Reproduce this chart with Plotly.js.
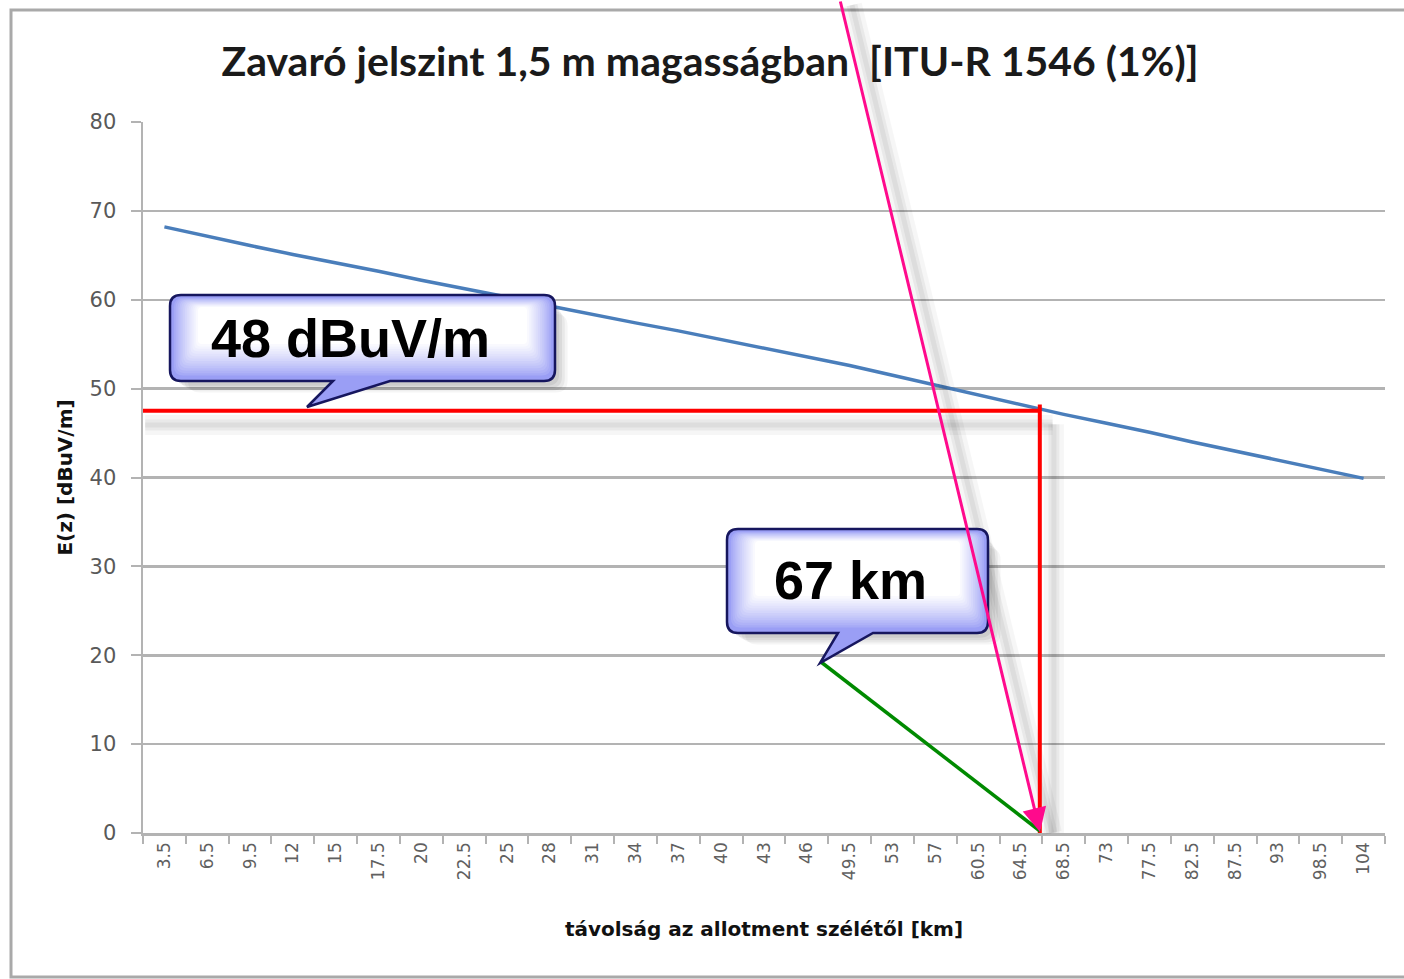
<!DOCTYPE html>
<html>
<head>
<meta charset="utf-8">
<script src="https://cdn.plot.ly/plotly-3.0.1.min.js"></script>
<style>
html,body{margin:0;padding:0;background:#fff;}
#chart{width:1404px;height:979px;}
</style>
</head>
<body>
<div id="chart"></div>
<script>
// ---- data ----
const distanceLabels = ['3.5','6.5','9.5','12','15','17.5','20','22.5','25','28','31','34','37','40','43','46','49.5','53','57','60.5','64.5','68.5','73','77.5','82.5','87.5','93','98.5','104'];
const fieldStrength = [68.2,67.1,66.1,65.1,64.1,63.2,62.2,61.3,60.3,59.3,58.4,57.4,56.5,55.5,54.6,53.6,52.6,51.5,50.4,49.3,48.2,47.1,46.1,45.1,44.0,43.0,42.0,41.0,39.9];
const thresholdValue = 47.5;      // 48 dBuV/m level
const crossingIndex = 20.44;      // ~67 km position on the category axis
const calloutTexts = ['48 dBuV/m', '67 km'];

// ---- geometry helpers (pixel -> paper) ----
const W = 1404, H = 979, L = 143, R = 1385, T = 122, B = 833;
const px = x => (x - L) / (R - L);
const py = y => (B - y) / (B - T);
const P = (x, y) => px(x).toFixed(5) + ',' + py(y).toFixed(5);

function roundRect(x0, y0, x1, y1, r, ptr) {
  let d = 'M' + P(x0 + r, y0) + ' L' + P(x1 - r, y0) + ' Q' + P(x1, y0) + ' ' + P(x1, y0 + r) +
          ' L' + P(x1, y1 - r) + ' Q' + P(x1, y1) + ' ' + P(x1 - r, y1);
  if (ptr) d += ' L' + P(ptr[1], y1) + ' L' + P(ptr[2], ptr[3]) + ' L' + P(ptr[0], y1);
  d += ' L' + P(x0 + r, y1) + ' Q' + P(x0, y1) + ' ' + P(x0, y1 - r) +
       ' L' + P(x0, y0 + r) + ' Q' + P(x0, y0) + ' ' + P(x0 + r, y0) + ' Z';
  return d;
}
function mix(c1, c2, t) {
  const a = [1,3,5].map(i => parseInt(c1.substr(i,2),16)), b = [1,3,5].map(i => parseInt(c2.substr(i,2),16));
  return 'rgb(' + a.map((v,i) => Math.round(v + (b[i]-v)*t)).join(',') + ')';
}

const shapes = [];
// outer chart frame
shapes.push({type:'rect', xref:'paper', yref:'paper', x0:px(11), x1:px(1412), y0:py(977), y1:py(10),
  line:{color:'#a9a9a9', width:3}, fillcolor:'rgba(0,0,0,0)', layer:'below'});

// soft shadows of the marker lines
[[20, 0.035], [11, 0.05], [5, 0.05]].forEach(s => {
  shapes.push({type:'line', xref:'x', yref:'y', x0:-0.45, x1:crossingIndex + 0.3, y0:thresholdValue - 1.6, y1:thresholdValue - 1.6,
    line:{color:'rgba(0,0,0,' + s[1] + ')', width:s[0]}, layer:'above'});
  shapes.push({type:'line', xref:'x', yref:'y', x0:crossingIndex + 0.33, x1:crossingIndex + 0.33, y0:thresholdValue - 1.5, y1:0,
    line:{color:'rgba(0,0,0,' + s[1] + ')', width:s[0]}, layer:'above'});
  shapes.push({type:'line', xref:'paper', yref:'paper', x0:px(852), y0:py(5), x1:px(1052), y1:py(833),
    line:{color:'rgba(0,0,0,' + s[1] + ')', width:s[0]}, layer:'above'});
});

// red marker lines (level + distance)
shapes.push({type:'line', xref:'x', yref:'y', x0:-0.74, x1:crossingIndex, y0:thresholdValue, y1:thresholdValue,
  line:{color:'#ff0000', width:4}, layer:'above'});
shapes.push({type:'line', xref:'x', yref:'y', x0:crossingIndex, x1:crossingIndex, y0:thresholdValue + 0.7, y1:0,
  line:{color:'#ff0000', width:4}, layer:'above'});

// green pointer line
shapes.push({type:'line', xref:'paper', yref:'paper', x0:px(821), y0:py(662), x1:px(1040), y1:py(831),
  line:{color:'#008a00', width:3.5}, layer:'above'});

// callouts
const callouts = [
  {box:[170, 295, 555, 381], ptr:[333, 390, 307, 407], text:[350, 338]},
  {box:[727, 529, 988, 633], ptr:[838, 873, 820, 663], text:[850, 580]}
];
callouts.forEach(c => {
  const [x0, y0, x1, y1] = c.box;
  // soft shadow
  [[6, 8, 0.06], [10, 12, 0.06], [14, 16, 0.05], [18, 19, 0.04]].forEach(s => {
    shapes.push({type:'path', xref:'paper', yref:'paper', path:roundRect(x0 + s[0], y0 + s[1], x1 + s[0] * 0.7, y1 + s[1] * 0.6, 12),
      fillcolor:'rgba(0,0,0,' + s[2] + ')', line:{width:0}, layer:'above'});
  });
  // outer body
  shapes.push({type:'path', xref:'paper', yref:'paper', path:roundRect(x0, y0, x1, y1, 11, c.ptr),
    fillcolor:'#9a9ef5', line:{color:'#16165e', width:2.5}, layer:'above'});
  // gradient layers (edge lavender -> centre white)
  const n = 14;
  for (let k = 1; k <= n; k++) {
    const t = k / n;
    const il = 2 + 26 * t, it = 2 + 10 * t, ib = 3 + 34 * t;
    shapes.push({type:'path', xref:'paper', yref:'paper', path:roundRect(x0 + il, y0 + it, x1 - il, y1 - ib, Math.max(3, 10 - 6 * t)),
      fillcolor:mix('#9a9ef5', '#ffffff', Math.pow(t, 0.8)), line:{width:0}, layer:'above'});
  }
});

const annotations = [
  {xref:'paper', yref:'paper', x:px(callouts[0].text[0]), y:py(callouts[0].text[1]), text:calloutTexts[0], showarrow:false,
   font:{family:'Liberation Sans, Arial, sans-serif', size:54, color:'#000', weight:700}, xanchor:'center', yanchor:'middle'},
  {xref:'paper', yref:'paper', x:px(callouts[1].text[0]), y:py(callouts[1].text[1]), text:calloutTexts[1], showarrow:false,
   font:{family:'Liberation Sans, Arial, sans-serif', size:54, color:'#000', weight:700}, xanchor:'center', yanchor:'middle'},
  // pink arrow
  {xref:'paper', yref:'paper', x:px(1040), y:py(832), axref:'pixel', ayref:'pixel', ax:840 - 1040, ay:-2 - 832,
   text:'', showarrow:true, arrowhead:2, arrowsize:1.6, arrowwidth:3, arrowcolor:'#ff0a8c', standoff:0}
];

const trace = {
  type:'scatter', mode:'lines', x:distanceLabels, y:fieldStrength,
  line:{color:'#4a7ebb', width:3.5}, hoverinfo:'x+y', showlegend:false
};

const layout = {
  width:W, height:H,
  margin:{l:L, r:W - R, t:T, b:H - B},
  paper_bgcolor:'#ffffff', plot_bgcolor:'#ffffff',
  font:{family:'DejaVu Sans, sans-serif', color:'#595959'},
  title:{text:'Zavaró jelszint 1,5 m magasságban  [ITU-R 1546 (1%)]', xref:'container', yref:'container',
    x:710 / W, y:1 - 62 / H, xanchor:'center', yanchor:'middle',
    font:{family:'Lato, Open Sans, sans-serif', size:41, color:'#1a1a1a', weight:700}},
  xaxis:{type:'category', range:[-0.5, distanceLabels.length - 0.5], tickson:'boundaries',
    ticks:'outside', ticklen:8, tickwidth:2, tickcolor:'#b3b3b3', showgrid:false,
    showline:true, linecolor:'#b3b3b3', linewidth:2.5, tickangle:-90,
    tickfont:{family:'DejaVu Sans, sans-serif', size:17, color:'#606060'}, fixedrange:true,
    title:{text:'távolság az allotment szélétől [km]', standoff:43,
      font:{family:'DejaVu Sans, sans-serif', size:20, color:'#111', weight:700}}},
  yaxis:{range:[0, 80], dtick:10, showgrid:true, gridcolor:'#b3b3b3', gridwidth:2.5,
    ticks:'outside', ticklen:10, tickwidth:2, tickcolor:'#b3b3b3', zeroline:false, ticklabelstandoff:10,
    showline:true, linecolor:'#b3b3b3', linewidth:2.5,
    tickfont:{family:'DejaVu Sans, sans-serif', size:21, color:'#595959'}, fixedrange:true,
    title:{text:'E(z) [dBuV/m]', standoff:12,
      font:{family:'DejaVu Sans, sans-serif', size:20, color:'#111', weight:700}}},
  shapes:shapes, annotations:annotations
};

Plotly.newPlot('chart', [trace], layout, {displayModeBar:false, staticPlot:true});
</script>
</body>
</html>
